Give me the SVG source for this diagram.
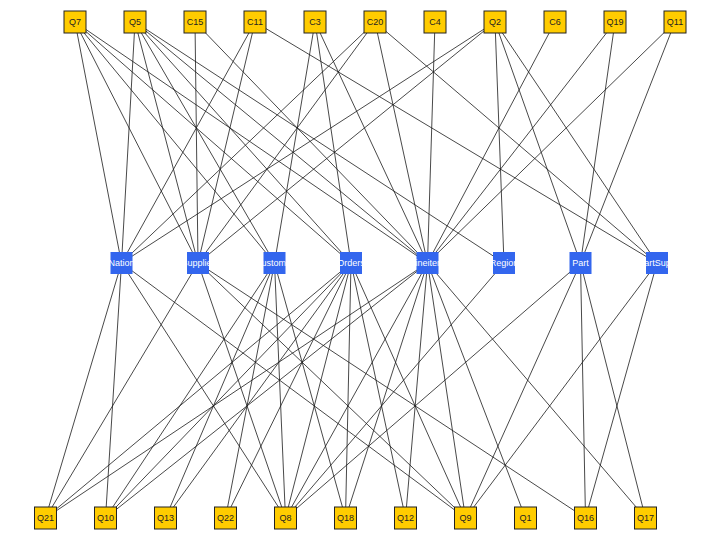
<svg xmlns="http://www.w3.org/2000/svg" width="720" height="540" viewBox="0 0 720 540">
<style>
.e line{stroke:#1a1a1a;stroke-width:0.8;fill:none}
.q rect{fill:#FFCC00;stroke:#222;stroke-width:1}
.q text{font-family:"Liberation Sans",Arial,sans-serif;font-size:9px;fill:#222;text-anchor:middle}
.t rect{fill:#3366EE;stroke:none}
.t text{font-family:"Liberation Sans",Arial,sans-serif;font-size:9px;fill:#fff;text-anchor:middle}
</style>
<rect width="720" height="540" fill="#fff"/>
<g id="edges" class="e">
<line x1="75" y1="22" x2="121.5" y2="263"/>
<line x1="75" y1="22" x2="198" y2="263"/>
<line x1="75" y1="22" x2="274.5" y2="263"/>
<line x1="75" y1="22" x2="351" y2="263"/>
<line x1="75" y1="22" x2="427.5" y2="263"/>
<line x1="135" y1="22" x2="121.5" y2="263"/>
<line x1="135" y1="22" x2="198" y2="263"/>
<line x1="135" y1="22" x2="274.5" y2="263"/>
<line x1="135" y1="22" x2="351" y2="263"/>
<line x1="135" y1="22" x2="427.5" y2="263"/>
<line x1="135" y1="22" x2="504" y2="263"/>
<line x1="195" y1="22" x2="198" y2="263"/>
<line x1="195" y1="22" x2="427.5" y2="263"/>
<line x1="255" y1="22" x2="121.5" y2="263"/>
<line x1="255" y1="22" x2="198" y2="263"/>
<line x1="255" y1="22" x2="657" y2="263"/>
<line x1="315" y1="22" x2="274.5" y2="263"/>
<line x1="315" y1="22" x2="351" y2="263"/>
<line x1="315" y1="22" x2="427.5" y2="263"/>
<line x1="375" y1="22" x2="121.5" y2="263"/>
<line x1="375" y1="22" x2="198" y2="263"/>
<line x1="375" y1="22" x2="427.5" y2="263"/>
<line x1="375" y1="22" x2="657" y2="263"/>
<line x1="435" y1="22" x2="427.5" y2="263"/>
<line x1="495" y1="22" x2="121.5" y2="263"/>
<line x1="495" y1="22" x2="198" y2="263"/>
<line x1="495" y1="22" x2="504" y2="263"/>
<line x1="495" y1="22" x2="580.5" y2="263"/>
<line x1="495" y1="22" x2="657" y2="263"/>
<line x1="555" y1="22" x2="427.5" y2="263"/>
<line x1="615" y1="22" x2="427.5" y2="263"/>
<line x1="615" y1="22" x2="580.5" y2="263"/>
<line x1="675" y1="22" x2="427.5" y2="263"/>
<line x1="675" y1="22" x2="580.5" y2="263"/>
<line x1="121.5" y1="263" x2="45.5" y2="518"/>
<line x1="121.5" y1="263" x2="105.5" y2="518"/>
<line x1="121.5" y1="263" x2="285.5" y2="518"/>
<line x1="121.5" y1="263" x2="465.5" y2="518"/>
<line x1="198" y1="263" x2="45.5" y2="518"/>
<line x1="198" y1="263" x2="285.5" y2="518"/>
<line x1="198" y1="263" x2="465.5" y2="518"/>
<line x1="198" y1="263" x2="585.5" y2="518"/>
<line x1="274.5" y1="263" x2="105.5" y2="518"/>
<line x1="274.5" y1="263" x2="165.5" y2="518"/>
<line x1="274.5" y1="263" x2="225.5" y2="518"/>
<line x1="274.5" y1="263" x2="285.5" y2="518"/>
<line x1="274.5" y1="263" x2="345.5" y2="518"/>
<line x1="351" y1="263" x2="45.5" y2="518"/>
<line x1="351" y1="263" x2="105.5" y2="518"/>
<line x1="351" y1="263" x2="165.5" y2="518"/>
<line x1="351" y1="263" x2="225.5" y2="518"/>
<line x1="351" y1="263" x2="285.5" y2="518"/>
<line x1="351" y1="263" x2="345.5" y2="518"/>
<line x1="351" y1="263" x2="405.5" y2="518"/>
<line x1="351" y1="263" x2="465.5" y2="518"/>
<line x1="427.5" y1="263" x2="45.5" y2="518"/>
<line x1="427.5" y1="263" x2="105.5" y2="518"/>
<line x1="427.5" y1="263" x2="285.5" y2="518"/>
<line x1="427.5" y1="263" x2="345.5" y2="518"/>
<line x1="427.5" y1="263" x2="405.5" y2="518"/>
<line x1="427.5" y1="263" x2="465.5" y2="518"/>
<line x1="427.5" y1="263" x2="525.5" y2="518"/>
<line x1="427.5" y1="263" x2="645.5" y2="518"/>
<line x1="504" y1="263" x2="285.5" y2="518"/>
<line x1="580.5" y1="263" x2="285.5" y2="518"/>
<line x1="580.5" y1="263" x2="465.5" y2="518"/>
<line x1="580.5" y1="263" x2="585.5" y2="518"/>
<line x1="580.5" y1="263" x2="645.5" y2="518"/>
<line x1="657" y1="263" x2="465.5" y2="518"/>
<line x1="657" y1="263" x2="585.5" y2="518"/>
</g>
<g id="n-Q7" class="q"><rect x="64" y="11" width="22" height="22"/><text x="75" y="25">Q7</text></g>
<g id="n-Q5" class="q"><rect x="124" y="11" width="22" height="22"/><text x="135" y="25">Q5</text></g>
<g id="n-C15" class="q"><rect x="184" y="11" width="22" height="22"/><text x="195" y="25">C15</text></g>
<g id="n-C11" class="q"><rect x="244" y="11" width="22" height="22"/><text x="255" y="25">C11</text></g>
<g id="n-C3" class="q"><rect x="304" y="11" width="22" height="22"/><text x="315" y="25">C3</text></g>
<g id="n-C20" class="q"><rect x="364" y="11" width="22" height="22"/><text x="375" y="25">C20</text></g>
<g id="n-C4" class="q"><rect x="424" y="11" width="22" height="22"/><text x="435" y="25">C4</text></g>
<g id="n-Q2" class="q"><rect x="484" y="11" width="22" height="22"/><text x="495" y="25">Q2</text></g>
<g id="n-C6" class="q"><rect x="544" y="11" width="22" height="22"/><text x="555" y="25">C6</text></g>
<g id="n-Q19" class="q"><rect x="604" y="11" width="22" height="22"/><text x="615" y="25">Q19</text></g>
<g id="n-Q11" class="q"><rect x="664" y="11" width="22" height="22"/><text x="675" y="25">Q11</text></g>
<g id="n-Nation" class="t"><rect x="110.5" y="252" width="22" height="22"/><text x="121.5" y="266">Nation</text></g>
<g id="n-Supplier" class="t"><rect x="187" y="252" width="22" height="22"/><text x="198" y="266">Supplier</text></g>
<g id="n-Customer" class="t"><rect x="263.5" y="252" width="22" height="22"/><text x="274.5" y="266">Customer</text></g>
<g id="n-Orders" class="t"><rect x="340" y="252" width="22" height="22"/><text x="351" y="266">Orders</text></g>
<g id="n-Lineitem" class="t"><rect x="416.5" y="252" width="22" height="22"/><text x="427.5" y="266">Lineitem</text></g>
<g id="n-Region" class="t"><rect x="493" y="252" width="22" height="22"/><text x="504" y="266">Region</text></g>
<g id="n-Part" class="t"><rect x="569.5" y="252" width="22" height="22"/><text x="580.5" y="266">Part</text></g>
<g id="n-PartSupp" class="t"><rect x="646" y="252" width="22" height="22"/><text x="657" y="266">PartSupp</text></g>
<g id="n-Q21" class="q"><rect x="34.5" y="507" width="22" height="22"/><text x="45.5" y="521">Q21</text></g>
<g id="n-Q10" class="q"><rect x="94.5" y="507" width="22" height="22"/><text x="105.5" y="521">Q10</text></g>
<g id="n-Q13" class="q"><rect x="154.5" y="507" width="22" height="22"/><text x="165.5" y="521">Q13</text></g>
<g id="n-Q22" class="q"><rect x="214.5" y="507" width="22" height="22"/><text x="225.5" y="521">Q22</text></g>
<g id="n-Q8" class="q"><rect x="274.5" y="507" width="22" height="22"/><text x="285.5" y="521">Q8</text></g>
<g id="n-Q18" class="q"><rect x="334.5" y="507" width="22" height="22"/><text x="345.5" y="521">Q18</text></g>
<g id="n-Q12" class="q"><rect x="394.5" y="507" width="22" height="22"/><text x="405.5" y="521">Q12</text></g>
<g id="n-Q9" class="q"><rect x="454.5" y="507" width="22" height="22"/><text x="465.5" y="521">Q9</text></g>
<g id="n-Q1" class="q"><rect x="514.5" y="507" width="22" height="22"/><text x="525.5" y="521">Q1</text></g>
<g id="n-Q16" class="q"><rect x="574.5" y="507" width="22" height="22"/><text x="585.5" y="521">Q16</text></g>
<g id="n-Q17" class="q"><rect x="634.5" y="507" width="22" height="22"/><text x="645.5" y="521">Q17</text></g>
</svg>
